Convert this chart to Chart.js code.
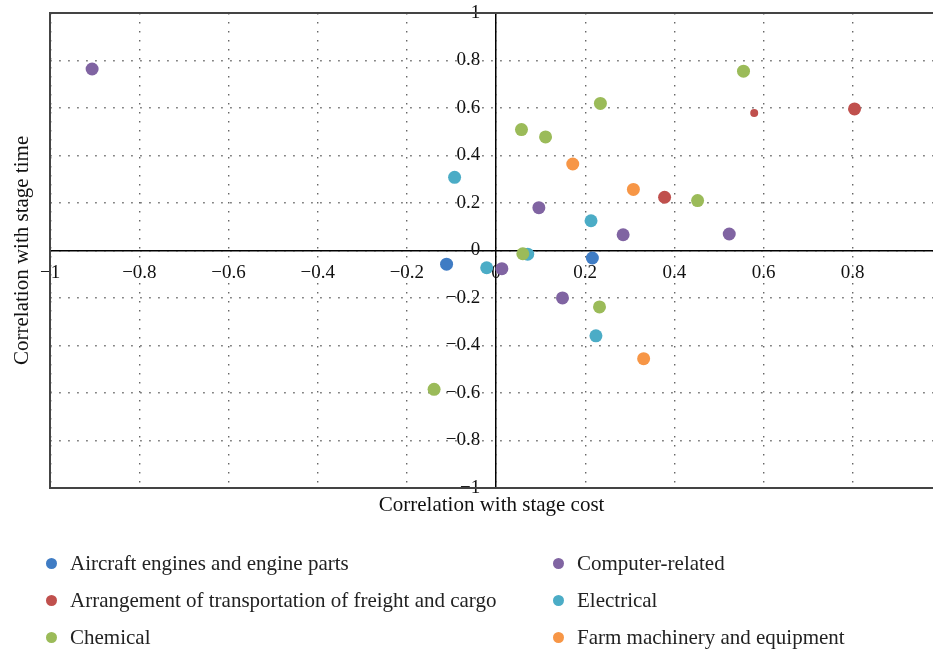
<!DOCTYPE html>
<html>
<head>
<meta charset="utf-8">
<script src="https://cdn.jsdelivr.net/npm/chart.js@4"></script>
<style>
  html, body { margin: 0; padding: 0; background: #fff; }
  #wrap { position: relative; width: 933px; height: 650px; }
  #legend { position: absolute; left: 0; top: 0; width: 933px; height: 650px; pointer-events: none;
            font-family: "Liberation Serif", serif; font-size: 21px; color: #222; }
  .item { position: absolute; white-space: nowrap; line-height: 24px; }
  .dot { position: absolute; width: 11px; height: 11px; border-radius: 50%; }
</style>
</head>
<body>
<div id="wrap">
  <canvas id="stageChart"></canvas>
  <div id="legend"></div>
</div>
<script>
const categories = [
    "Aircraft engines and engine parts",
    "Arrangement of transportation of freight and cargo",
    "Chemical",
    "Computer-related",
    "Electrical",
    "Farm machinery and equipment"
];

const colors = ["#3f7cc4", "#c0504d", "#9bbb59", "#8064a2", "#4bacc6", "#f79646"];

// [cost correlation, time correlation]
const aircraftPts = [[-0.111, -0.058], [0.216, -0.032]];
const freightPts = [[0.804, 0.596], [0.579, 0.579], [0.378, 0.224]];
const chemicalPts = [[0.555, 0.755], [0.234, 0.619], [0.057, 0.509], [0.111, 0.478],
                     [0.452, 0.210], [0.060, -0.014], [0.232, -0.238], [-0.139, -0.585]];
const computerPts = [[-0.906, 0.764], [0.096, 0.180], [0.285, 0.066], [0.523, 0.069],
                     [0.013, -0.077], [0.149, -0.200]];
const electricalPts = [[-0.093, 0.308], [0.213, 0.125], [0.071, -0.016], [-0.021, -0.073],
                       [0.224, -0.360]];
const farmPts = [[0.172, 0.364], [0.308, 0.257], [0.331, -0.456]];

const seriesPts = [aircraftPts, freightPts, chemicalPts, computerPts, electricalPts, farmPts];

const xMin = -1, xMax = 0.98, yMin = -1, yMax = 1, tickStep = 0.2;

const serif = "'Liberation Serif', 'DejaVu Serif', serif";
const tickLabel = v => String(Math.round(v * 10) / 10).replace("-", "\u2212");
const dotted = { color: "#666", lineWidth: 1.4 };
const noPad = s => { s.paddingLeft = 0; s.paddingRight = 0; s.paddingTop = 0; s.paddingBottom = 0; };

const ctx = document.getElementById("stageChart");

new Chart(ctx, {
    type: "scatter",
    data: {
        datasets: categories.map((name, i) => ({
            label: name,
            data: seriesPts[i].map(p => ({ x: p[0], y: p[1] })),
            backgroundColor: colors[i],
            borderWidth: 0,
            pointRadius: i === 1 ? [6.5, 4, 6.5] : 6.5,
            pointHoverRadius: 7
        }))
    },
    options: {
        responsive: true,
        maintainAspectRatio: false,
        animation: false,
        layout: { autoPadding: false, padding: { top: 13, left: 2, right: 0, bottom: 132 } },
        plugins: {
            legend: { display: false },
            tooltip: { enabled: false }
        },
        scales: {
            x: {
                type: "linear",
                position: { y: 0 },
                min: xMin, max: xMax,
                grid: { ...dotted, drawTicks: false },
                border: { color: "#000", width: 1.5, dash: [1.5, 7.5] },
                ticks: {
                    stepSize: tickStep, includeBounds: false, padding: 11,
                    color: "#111", font: { family: serif, size: 19 },
                    maxRotation: 0, autoSkip: false,
                    callback: v => tickLabel(v)
                },
                afterFit: noPad
            },
            y: {
                type: "linear",
                position: { x: 0 },
                min: yMin, max: yMax,
                grid: { ...dotted, drawTicks: false },
                border: { color: "#000", width: 1.5, dash: [1.5, 7.5] },
                ticks: {
                    stepSize: tickStep,
                    color: "#111", font: { family: serif, size: 19 },
                    autoSkip: false,
                    // labels sit on the zero line; the trailing space keeps them off it
                    callback: v => tickLabel(v) + "\u2002\u2004"
                },
                afterFit: noPad
            },
            xBottom: {
                type: "linear", position: "bottom", min: xMin, max: xMax,
                grid: { display: false, drawTicks: false },
                ticks: { display: false },
                border: { color: "#444", width: 2 },
                title: {
                    display: true, text: "Correlation with stage cost", color: "#111",
                    font: { family: serif, size: 21 }, padding: { top: 5, bottom: 0 }
                },
                afterFit: noPad
            },
            xTop: {
                type: "linear", position: "top", min: xMin, max: xMax,
                grid: { display: false, drawTicks: false },
                ticks: { display: false },
                border: { color: "#444", width: 2 },
                afterFit: noPad
            },
            yLeft: {
                type: "linear", position: "left", min: yMin, max: yMax,
                grid: { display: false, drawTicks: false },
                ticks: { display: false },
                border: { color: "#444", width: 2 },
                title: {
                    display: true, text: "Correlation with stage time", color: "#111",
                    font: { family: serif, size: 21 }, padding: { top: 8, bottom: 15 }
                },
                afterFit: noPad
            }
        }
    }
});

// legend, two columns of three
const legend = document.getElementById("legend");
categories.forEach((name, i) => {
    const col = Math.floor(i / 3), row = i % 3;
    const cy = 563 + row * 37;
    const dotX = col === 0 ? 51 : 558;
    const dot = document.createElement("div");
    dot.className = "dot";
    dot.style.background = colors[i];
    dot.style.left = (dotX - 5.5) + "px";
    dot.style.top = (cy - 5.5) + "px";
    const txt = document.createElement("div");
    txt.className = "item";
    txt.textContent = name;
    txt.style.left = (dotX + 19) + "px";
    txt.style.top = (cy - 12) + "px";
    legend.appendChild(dot);
    legend.appendChild(txt);
});
</script>
</body>
</html>
